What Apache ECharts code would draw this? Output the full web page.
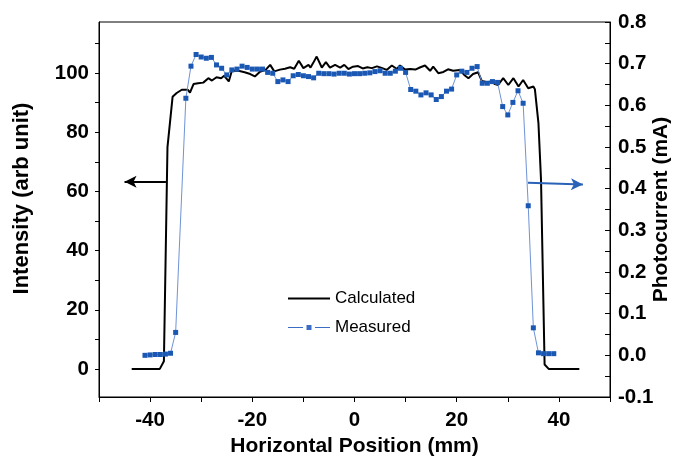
<!DOCTYPE html>
<html>
<head>
<meta charset="utf-8">
<script src="https://cdn.jsdelivr.net/npm/echarts@6/dist/echarts.min.js"></script>
<style>html,body{margin:0;padding:0;background:#fff}#c{width:675px;height:456px}</style>
</head>
<body>
<div id="c"></div>
<script>
// Calculated intensity (left axis, arb unit)
const calcPos = [-43.6,-38.1,-37.3,-36.6,-35.6,-34.8,-33.8,-32.6,-32.2,-31.5,-30.6,-29.6,-28.6,-27.9,-27.0,-26.1,-25.5,-24.6,-24.0,-22.7,-21.5,-20.4,-19.5,-18.5,-17.4,-16.5,-15.7,-14.6,-13.6,-12.6,-11.8,-10.9,-10.0,-9.0,-8.6,-8.1,-7.4,-6.4,-5.6,-4.8,-3.8,-2.8,-2.0,-1.2,-0.3,0.7,1.6,2.5,3.4,4.4,5.3,6.3,7.3,8.3,8.9,9.9,10.9,11.9,12.9,13.8,14.8,15.4,16.4,17.4,18.3,19.3,20.6,21.6,22.3,23.2,24.2,24.9,25.9,26.8,27.5,28.1,29.1,30.1,31.1,32.1,33.0,34.0,35.0,35.3,36.0,36.5,37.2,38.0,44.0];
const calcVal = [0,0,2.6,75,92,93.3,94.4,94.4,93.4,96.3,96.6,96.8,98.3,97.5,98.6,98.3,99.1,97.2,100.8,100.8,100.3,99.7,98.9,100.5,101.1,102.8,100.6,101.2,101.5,102.0,101.5,104.2,101.7,102.8,101.9,103.4,105.6,101.9,103.7,101.9,102.8,101.9,102.8,101.4,102.2,102.4,101.6,102.0,101.7,102.3,101.8,101.1,102.6,101.4,102.6,101.2,101.4,101.2,102.0,102.6,100.8,102.2,100.0,100.4,101.3,100.8,101.1,99.2,98.3,99.7,100.3,97.4,96.9,97.2,96.3,96.0,98.3,96.0,98.3,95.5,97.7,94.9,95.5,94.6,83,64,1.5,0,0];

// Measured photocurrent (right axis, mA)
const measPos = [-41,-40,-39,-38,-37,-36,-35,-33,-32,-31,-30,-29,-28,-27,-26,-25,-24,-23,-22,-21,-20,-19,-18,-17,-16,-15,-14,-13,-12,-11,-10,-9,-8,-7,-6,-5,-4,-3,-2,-1,0,1,2,3,4,5,6,7,8,9,10,11,12,13,14,15,16,17,18,19,20,21,22,23,24,25,26,27,28,29,30,31,32,33,34,35,36,37,38,39];
const measVal = [0.000,0.001,0.002,0.002,0.003,0.005,0.055,0.617,0.694,0.722,0.716,0.713,0.715,0.697,0.689,0.673,0.685,0.687,0.694,0.691,0.687,0.687,0.687,0.679,0.677,0.657,0.661,0.657,0.671,0.674,0.671,0.669,0.666,0.677,0.676,0.676,0.675,0.677,0.677,0.675,0.676,0.676,0.677,0.678,0.681,0.683,0.677,0.677,0.682,0.689,0.679,0.638,0.634,0.625,0.630,0.625,0.614,0.621,0.634,0.639,0.673,0.682,0.679,0.689,0.693,0.653,0.653,0.657,0.655,0.597,0.577,0.607,0.635,0.605,0.359,0.066,0.006,0.004,0.004,0.004];

// Tick labels
const xTickLabels = [-40,-20,0,20,40];
const leftTickLabels = [0,20,40,60,80,100];
const leftTicks = [0,10,20,30,40,50,60,70,80,90,100,110];

const font = 'Liberation Sans, Arial, sans-serif';
const chart = echarts.init(document.getElementById('c'));
chart.setOption({
  backgroundColor: '#fff',
  animation: false,
  grid: {left: 99, right: 65, top: 22, bottom: 59, show: true, borderColor: '#000', borderWidth: 1,
         containLabel: false, outerBoundsMode: 'none'},
  legend: {
    orient: 'vertical', left: 283, top: 285, itemWidth: 42, itemHeight: 10, itemGap: 12,
    textStyle: {fontFamily: font, fontSize: 17, color: '#000', padding: [0, 0, 0, 0]},
    data: [
      {name: 'Calculated', icon: 'path://M0,4 L42,4 L42,6 L0,6 Z', itemStyle: {color: '#000'}},
      {name: 'Measured', icon: 'path://M0,4.5 L15,4.5 L15,5.5 L0,5.5 Z M18.5,2.5 L23.5,2.5 L23.5,7.5 L18.5,7.5 Z M27,4.5 L42,4.5 L42,5.5 L27,5.5 Z', itemStyle: {color: '#3a6cc4'}}
    ]
  },
  xAxis: {
    type: 'value', min: -50, max: 50, interval: 10,
    name: 'Horizontal Position (mm)', nameLocation: 'middle', nameGap: 38,
    nameTextStyle: {fontFamily: font, fontSize: 21, fontWeight: 'bold', color: '#000'},
    axisLine: {onZero: false, lineStyle: {color: '#000', width: 1}},
    axisTick: {show: true, length: 5, lineStyle: {color: '#000'}},
    splitLine: {show: false},
    axisLabel: {customValues: xTickLabels, margin: 13, fontFamily: font, fontSize: 20.5, fontWeight: 'bold', color: '#000'}
  },
  yAxis: [{
    type: 'value', min: -9.5, max: 117.3, position: 'left',
    name: 'Intensity (arb unit)', nameLocation: 'middle', nameGap: 66, nameRotate: 90, nameMoveOverlap: false,
    nameTextStyle: {fontFamily: font, fontSize: 22, fontWeight: 'bold', color: '#000', padding: [0, 0, 0, 22]},
    axisLine: {show: true, onZero: false, lineStyle: {color: '#000', width: 1}},
    axisTick: {show: true, customValues: leftTicks, length: 4, lineStyle: {color: '#000'}},
    axisLabel: {customValues: leftTickLabels, margin: 10, fontFamily: font, fontSize: 20.5, fontWeight: 'bold', color: '#000'},
    splitLine: {show: false}
  }, {
    type: 'value', min: -0.1, max: 0.8, interval: 0.1, position: 'right',
    name: 'Photocurrent (mA)', nameLocation: 'middle', nameGap: 41, nameRotate: 90, nameMoveOverlap: false,
    nameTextStyle: {fontFamily: font, fontSize: 21, fontWeight: 'bold', color: '#000'},
    axisLine: {show: true, onZero: false, lineStyle: {color: '#000', width: 1}},
    axisTick: {show: true, inside: true, length: 5, lineStyle: {color: '#000'}},
    minorTick: {show: true, splitNumber: 2, length: 5, lineStyle: {color: '#000'}},
    axisLabel: {margin: 8, fontFamily: font, fontSize: 20.5, fontWeight: 'bold', color: '#000',
      formatter: v => v.toFixed(1)},
    splitLine: {show: false}
  }],
  series: [{
    name: 'Calculated', type: 'line', yAxisIndex: 0, symbol: 'none',
    lineStyle: {color: '#000', width: 2}, itemStyle: {color: '#000'},
    data: calcPos.map((p, i) => [p, calcVal[i]]),
    markLine: {
      silent: true, symbol: ['none', 'arrow'], symbolSize: [9, 12], label: {show: false},
      lineStyle: {color: '#000', width: 2, type: 'solid'},
      data: [[{coord: [-36.9, 63.3]}, {coord: [-45.0, 63.3]}]]
    }
  }, {
    name: 'Measured', type: 'line', yAxisIndex: 1, symbol: 'rect', symbolSize: 5,
    lineStyle: {color: '#6f93d6', width: 1}, itemStyle: {color: '#1b58b3'},
    data: measPos.map((p, i) => [p, measVal[i]]),
    markLine: {
      silent: true, symbol: ['none', 'arrow'], symbolSize: [9, 12], label: {show: false},
      lineStyle: {color: '#2a62b8', width: 2, type: 'solid'},
      data: [[{coord: [33.95, 0.414]}, {coord: [44.7, 0.410]}]]
    }
  }]
});
</script>
</body>
</html>
